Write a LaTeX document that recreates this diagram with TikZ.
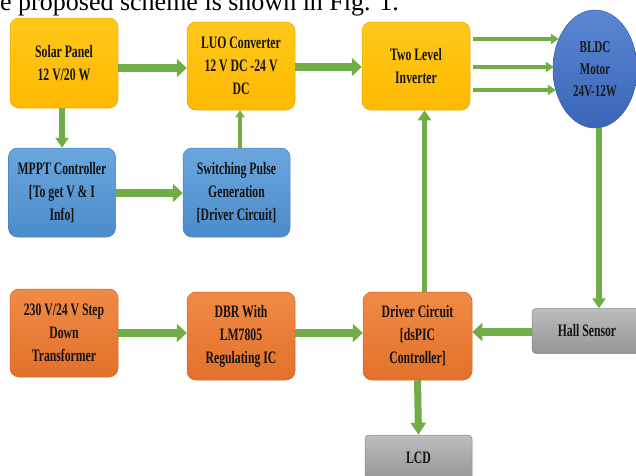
\documentclass[tikz,border=0pt]{standalone}
\usepackage{fontspec}
\setmainfont{Liberation Serif}
\newfontfamily\boxfont{Liberation Serif}[FakeStretch=0.67]
\usetikzlibrary{arrows.meta,shapes.geometric}
\definecolor{ygold}{HTML}{FFC000}
\definecolor{ygoldtop}{HTML}{FFC81A}
\definecolor{ygoldbot}{HTML}{FFB900}
\definecolor{bluetop}{HTML}{6AA6DD}
\definecolor{bluebot}{HTML}{4C8CCB}
\definecolor{orgtop}{HTML}{F08A45}
\definecolor{orgbot}{HTML}{E2712A}
\definecolor{graytop}{HTML}{BDBDBD}
\definecolor{graybot}{HTML}{959595}
\definecolor{mottop}{HTML}{5A87D2}
\definecolor{motbot}{HTML}{3A65B8}
\definecolor{agreen}{HTML}{70AD47}
\begin{document}
\begin{tikzpicture}[x=1pt,y=-1pt,
  blk/.style={rectangle, rounded corners=9pt, align=center, inner sep=1pt,
    font=\boxfont\bfseries\fontsize{17.5}{23}\selectfont, text=black!92},
  ybox/.style={blk, top color=ygoldtop, bottom color=ygoldbot, draw=ygoldbot!90!black, line width=0.5pt},
  bbox/.style={blk, top color=bluetop, bottom color=bluebot, draw=bluebot!90!black, line width=0.5pt},
  obox/.style={blk, top color=orgtop, bottom color=orgbot, draw=orgbot!90!black, line width=0.5pt},
  gbox/.style={blk, rounded corners=4pt, top color=graytop, bottom color=graybot, draw=graybot!90!black, line width=0.5pt},
  bigarrow/.style={draw=agreen, line width=8pt, -{Triangle[width=18pt,length=10pt]}},
  medarrow/.style={draw=agreen, line width=5.5pt, -{Triangle[width=13pt,length=10pt]}},
  thinarrow/.style={draw=agreen, line width=3.5pt, -{Triangle[width=10pt,length=8pt]}}
]
\useasboundingbox (0,0) rectangle (636,475);

\node[anchor=base west, inner sep=0pt, font=\fontsize{26}{26}\selectfont] (cap) at (0,10) {e proposed scheme is shown in Fig. 1.};

\node[ybox, minimum width=108pt, minimum height=90pt] (solar) at (64,63) {Solar Panel\\12 V/20 W};
\node[ybox, minimum width=108pt, minimum height=88pt] (luo) at (241,66) {LUO Converter\\12 V DC -24 V\\DC};
\node[ybox, minimum width=108pt, minimum height=88pt] (inv) at (416,66) {Two Level\\Inverter};
\node[ellipse, minimum width=84pt, minimum height=118pt, inner sep=0pt, align=center,
  top color=mottop, bottom color=motbot, draw=motbot!90!black, line width=0.5pt,
  font=\boxfont\bfseries\fontsize{16.5}{22}\selectfont, text=black!90] (bldc) at (595,69) {BLDC\\Motor\\24V-12W};

\node[bbox, minimum width=107pt, minimum height=89pt] (mppt) at (62,192.5) {MPPT Controller\\{[}To get V \& I\\Info{]}};
\node[bbox, minimum width=107pt, minimum height=89pt] (sw) at (236.5,192.5) {Switching Pulse\\Generation\\{[}Driver Circuit{]}};

\node[obox, minimum width=108pt, minimum height=88pt] (trans) at (64,333) {230 V/24 V Step\\Down\\Transformer};
\node[obox, minimum width=108pt, minimum height=88pt] (dbr) at (241,336) {DBR With\\LM7805\\Regulating IC};
\node[obox, minimum width=109pt, minimum height=88pt] (drv) at (417.5,336) {Driver Circuit\\{[}dsPIC\\Controller{]}};
\node[gbox, minimum width=110pt, minimum height=45pt] (hall) at (587,331) {Hall Sensor};
\node[gbox, minimum width=107pt, minimum height=46pt] (lcd) at (418.5,458) {LCD};

% connectors
\draw[bigarrow] (solar.east |- 0,68) -- (luo.west |- 0,68);
\draw[bigarrow] (luo.east |- 0,67) -- (inv.west |- 0,67);
\draw[thinarrow] ([xshift=3pt]inv.east |- 0,39) -- ([xshift=6pt]bldc.west |- 0,39);
\draw[thinarrow] ([xshift=3pt]inv.east |- 0,67) -- ([xshift=1pt]bldc.west |- 0,67);
\draw[thinarrow] ([xshift=3pt]inv.east |- 0,90) -- ([xshift=3pt]bldc.west |- 0,90);
\draw[medarrow] (mppt.north |- solar.south) -- (mppt.north);
\draw[bigarrow] (mppt.east |- 0,193) -- (sw.west |- 0,193);
\draw[thinarrow, line width=4pt, -{Triangle[width=9pt,length=7pt]}] ([xshift=3.5pt]sw.north) -- ([xshift=3.5pt]sw.north |- luo.south);
\draw[bigarrow] (trans.east |- 0,333) -- (dbr.west |- 0,333);
\draw[bigarrow] (dbr.east |- 0,333) -- (drv.west |- 0,333);
\draw[bigarrow] (hall.west |- 0,332) -- (drv.east |- 0,332);
\draw[medarrow] ([xshift=7pt]drv.north) -- ([xshift=7pt]drv.north |- inv.south);
\draw[medarrow] ([xshift=4pt]bldc.south) -- ([xshift=4pt]bldc.south |- hall.north);
\draw[bigarrow, line width=7pt, -{Triangle[width=15pt,length=12pt]}] (drv.south) -- (lcd.north);
\end{tikzpicture}
\end{document}
